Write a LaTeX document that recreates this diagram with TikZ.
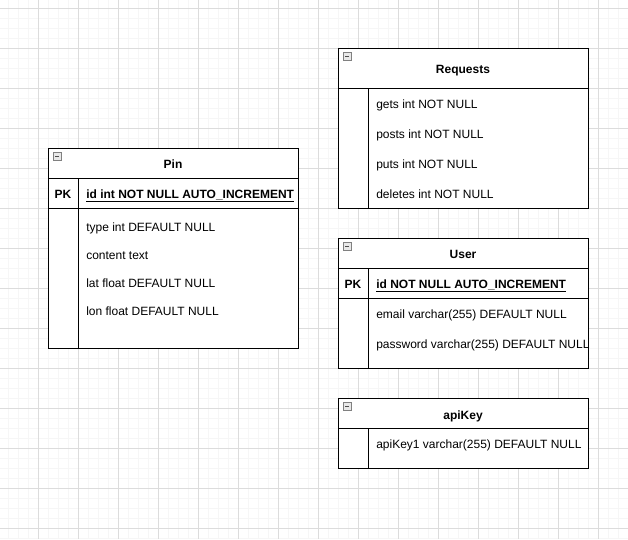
\documentclass[tikz,border=0pt]{standalone}
\usepackage{fontspec}
\setmainfont{Liberation Sans}
\usepackage{tikz}
\definecolor{gridminor}{HTML}{F6F6F6}
\definecolor{gridmajor}{HTML}{DCDCDC}
\definecolor{icongray}{HTML}{808080}
\definecolor{iconfill}{HTML}{E8E8E8}
\newcommand{\erfont}{\fontsize{9}{11}\selectfont}

\begin{document}
\begin{tikzpicture}[x=0.75pt,y=-0.75pt,
    tbl/.style={line width=0.75pt,black},
    tabletitle/.style={anchor=base,inner sep=0pt,font=\bfseries\erfont},
    field/.style={anchor=base west,inner sep=0pt,font=\erfont},
    keyfield/.style={anchor=base west,inner sep=0pt,font=\bfseries\erfont},
    pk/.style={anchor=base,inner sep=0pt,font=\bfseries\erfont}]
  \useasboundingbox (0,0) rectangle (628,539);
  \fill[white] (0,0) rectangle (628,539);
  % background grid
  \foreach \x in {8,18,...,628} \draw[gridminor,line width=0.6pt] (\x,0) -- (\x,539);
  \foreach \y in {8,18,...,538} \draw[gridminor,line width=0.6pt] (0,\y) -- (628,\y);
  \foreach \x in {38,78,...,628} \draw[gridmajor,line width=0.75pt] (\x,0) -- (\x,539);
  \foreach \y in {8,48,...,538} \draw[gridmajor,line width=0.75pt] (0,\y) -- (628,\y);

  % Pin
  \draw[tbl,fill=white] (48,148) rectangle (298,348);
  \draw[tbl] (48,178) -- (298,178);
  \draw[tbl] (48,208) -- (298,208);
  \draw[tbl] (78,178) -- (78,348);
  \draw[icongray,fill=iconfill,line width=0.6pt] (53,152) rectangle (61,160);
  \draw[black!70,line width=0.6pt] (55,156) -- (59,156);
  \node[tabletitle] (pinTitle) at (173,168) {Pin};
  \node[pk] (pinPK) at (63,198) {PK};
  \node[keyfield] (pinId) at (86,198) {\underline{id int NOT NULL AUTO\_INCREMENT}};
  \node[field] (pinType) at (86,231) {type int DEFAULT NULL};
  \node[field] (pinContent) at (86,259) {content text};
  \node[field] (pinLat) at (86,287) {lat float DEFAULT NULL};
  \node[field] (pinLon) at (86,315) {lon float DEFAULT NULL};

  % Requests
  \draw[tbl,fill=white] (338,48) rectangle (588,208);
  \draw[tbl] (338,88) -- (588,88);
  \draw[tbl] (368,88) -- (368,208);
  \draw[icongray,fill=iconfill,line width=0.6pt] (343,52) rectangle (351,60);
  \draw[black!70,line width=0.6pt] (345,56) -- (349,56);
  \node[tabletitle] (reqTitle) at (463,73) {Requests};
  \node[field] (reqGets) at (376,108) {gets int NOT NULL};
  \node[field] (reqPosts) at (376,138) {posts int NOT NULL};
  \node[field] (reqPuts) at (376,168) {puts int NOT NULL};
  \node[field] (reqDeletes) at (376,198) {deletes int NOT NULL};

  % User
  \draw[tbl,fill=white] (338,238) rectangle (588,368);
  \draw[tbl] (338,268) -- (588,268);
  \draw[tbl] (338,298) -- (588,298);
  \draw[tbl] (368,268) -- (368,368);
  \draw[icongray,fill=iconfill,line width=0.6pt] (343,242) rectangle (351,250);
  \draw[black!70,line width=0.6pt] (345,246) -- (349,246);
  \node[tabletitle] (userTitle) at (463,258) {User};
  \node[pk] (userPK) at (353,288) {PK};
  \node[keyfield] (userId) at (376,288) {\underline{id NOT NULL AUTO\_INCREMENT}};
  \node[field] (userEmail) at (376,318) {email varchar(255) DEFAULT NULL};
  \node[field] (userPassword) at (376,348) {password varchar(255) DEFAULT NULL};

  % apiKey
  \draw[tbl,fill=white] (338,398) rectangle (588,468);
  \draw[tbl] (338,428) -- (588,428);
  \draw[tbl] (368,428) -- (368,468);
  \draw[icongray,fill=iconfill,line width=0.6pt] (343,402) rectangle (351,410);
  \draw[black!70,line width=0.6pt] (345,406) -- (349,406);
  \node[tabletitle] (keyTitle) at (463,419) {apiKey};
  \node[field] (keyValue) at (376,448) {apiKey1 varchar(255) DEFAULT NULL};
\end{tikzpicture}
\end{document}
